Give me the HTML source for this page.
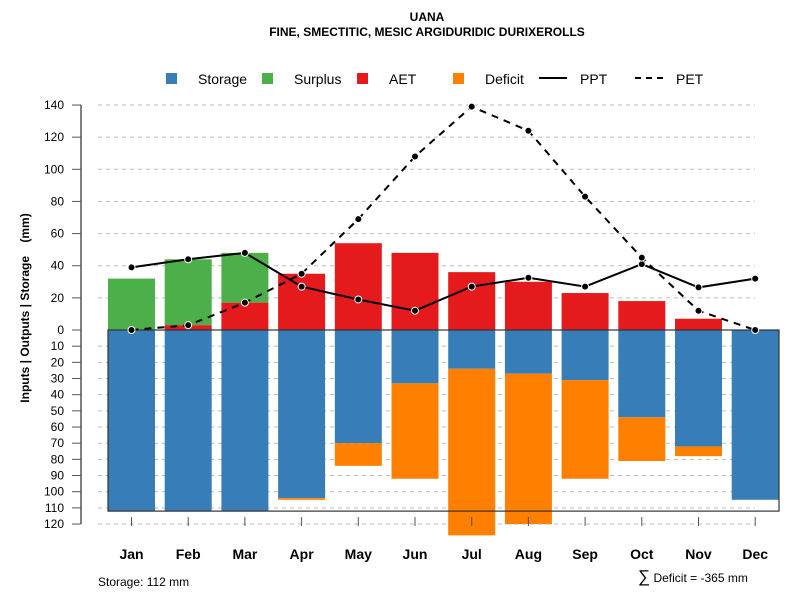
<!DOCTYPE html>
<html><head><meta charset="utf-8"><style>
body{margin:0;background:#fff}
svg{display:block;font-family:"Liberation Sans",Arial,sans-serif}
</style></head><body>
<svg id="chart" width="800" height="600" viewBox="0 0 800 600" xmlns="http://www.w3.org/2000/svg">
<text x="427" y="21" text-anchor="middle" font-size="12" font-weight="bold">UANA</text>
<text x="427" y="36" text-anchor="middle" font-size="12" font-weight="bold">FINE, SMECTITIC, MESIC ARGIDURIDIC DURIXEROLLS</text>
<g id="legend" font-size="14">
 <g><rect x="166" y="73" width="11" height="11" fill="#377EB8"/><text x="198" y="84">Storage</text></g>
 <g><rect x="262" y="73" width="11" height="11" fill="#4DAF4A"/><text x="294" y="84">Surplus</text></g>
 <g><rect x="357" y="73" width="11" height="11" fill="#E41A1C"/><text x="389" y="84">AET</text></g>
 <g><rect x="453" y="73" width="11" height="11" fill="#FF7F00"/><text x="485" y="84">Deficit</text></g>
 <g><line x1="539" y1="78" x2="567" y2="78" stroke="#000" stroke-width="2"/><text x="580" y="84">PPT</text></g>
 <g><line x1="635" y1="78" x2="663" y2="78" stroke="#000" stroke-width="2" stroke-dasharray="6,5"/><text x="676" y="84">PET</text></g>
</g>
<text transform="translate(29,308) rotate(-90)" text-anchor="middle" font-size="12" font-weight="bold">Inputs | Outputs | Storage &#160;&#160;&#160;(mm)</text>
<g id="grid"></g><g id="bars"></g><g id="frame"></g><g id="lines"></g><g id="axes"></g>
<text x="98" y="586" font-size="12">Storage: 112 mm</text>
<text x="638" y="582" font-size="12"><tspan font-size="17">∑</tspan> Deficit = -365 mm</text>
</svg>
<script>
const months=["Jan","Feb","Mar","Apr","May","Jun","Jul","Aug","Sep","Oct","Nov","Dec"];
const aet=[0,3,17,35,54,48,36,30,23,18,7,0];
const surplus=[32,41,31,0,0,0,0,0,0,0,0,0];
const storage=[112,112,112,104,70,33,24,27,31,54,72,105];
const deficit=[0,0,0,1,14,59,103,93,61,27,6,0];
const ppt=[39,44,48,27,19,12,27,32.5,27,41,26.5,32];
const pet=[0,3,17,35,69,108,139,124,83,45,12,0];
const topTicks=[0,20,40,60,80,100,120,140];
const botTicks=[10,20,30,40,50,60,70,80,90,100,110,120];
const NS="http://www.w3.org/2000/svg";
const y0=330,kT=1.607,kB=1.617;
const yTop=v=>y0-v*kT, yBot=v=>y0+v*kB;
const xc=i=>131.5+i*56.7, bw=47;
function mk(g,t,a){const e=document.createElementNS(NS,t);for(const k in a)e.setAttribute(k,a[k]);document.getElementById(g).appendChild(e);return e;}
topTicks.forEach(v=>{const y=yTop(v);
 if(v>0){const l=mk("grid","line",{x1:98,x2:755,y1:y,y2:y,stroke:"#bbb","stroke-dasharray":"4,4"});
 
 }
 mk("axes","line",{x1:72,x2:81,y1:y,y2:y,stroke:"#555"});
 const t=mk("axes","text",{x:64,y:y+4,"text-anchor":"end","font-size":12});t.textContent=v;
 
 });
botTicks.forEach(v=>{const y=yBot(v);
 const l=mk("grid","line",{x1:98,x2:755,y1:y,y2:y,stroke:"#bbb","stroke-dasharray":"4,4"});
 
 
 mk("axes","line",{x1:72,x2:81,y1:y,y2:y,stroke:"#555"});
 const t=mk("axes","text",{x:64,y:y+4,"text-anchor":"end","font-size":12});t.textContent=v;
 
 });
mk("axes","line",{x1:81,x2:81,y1:yTop(140),y2:yBot(120),stroke:"#555","stroke-width":1.5});
months.forEach((m,i)=>{const x=xc(i)-bw/2;
 if(surplus[i]>0){const r=mk("bars","rect",{x:x,width:bw,y:yTop(aet[i]+surplus[i]),height:surplus[i]*kT,fill:"#4DAF4A"});
 
 }
 if(aet[i]>0){const r=mk("bars","rect",{x:x,width:bw,y:yTop(aet[i]),height:aet[i]*kT,fill:"#E41A1C"});
 
 }
 const s=mk("bars","rect",{x:x,width:bw,y:y0,height:storage[i]*kB,fill:"#377EB8"});
 
 
 if(deficit[i]>0){const r=mk("bars","rect",{x:x,width:bw,y:yBot(storage[i]),height:deficit[i]*kB,fill:"#FF7F00"});
 
 }
 mk("axes","line",{x1:xc(i),x2:xc(i),y1:517,y2:526,stroke:"#555"});
 const t=mk("axes","text",{x:xc(i),y:559,"text-anchor":"middle","font-size":14,"font-weight":"bold"});t.textContent=m;
 
 });
const fr=mk("frame","rect",{x:108,y:y0,width:671,height:yBot(112)-y0,fill:"none",stroke:"#333","stroke-width":1.2});


function series(vals,name,dash){
 const pts=vals.map((v,i)=>xc(i)+","+yTop(v)).join(" ");
 const p=mk("lines","polyline",{points:pts,fill:"none",stroke:"#000","stroke-width":2,"stroke-dasharray":dash});
 
 
 vals.forEach((v,i)=>{const c=mk("lines","circle",{cx:xc(i),cy:yTop(v),r:3.5,fill:"#000",stroke:"#fff","stroke-width":1});
 
 });
}
series(ppt,"ppt","none");
series(pet,"pet","7,6");
</script>
</body></html>
